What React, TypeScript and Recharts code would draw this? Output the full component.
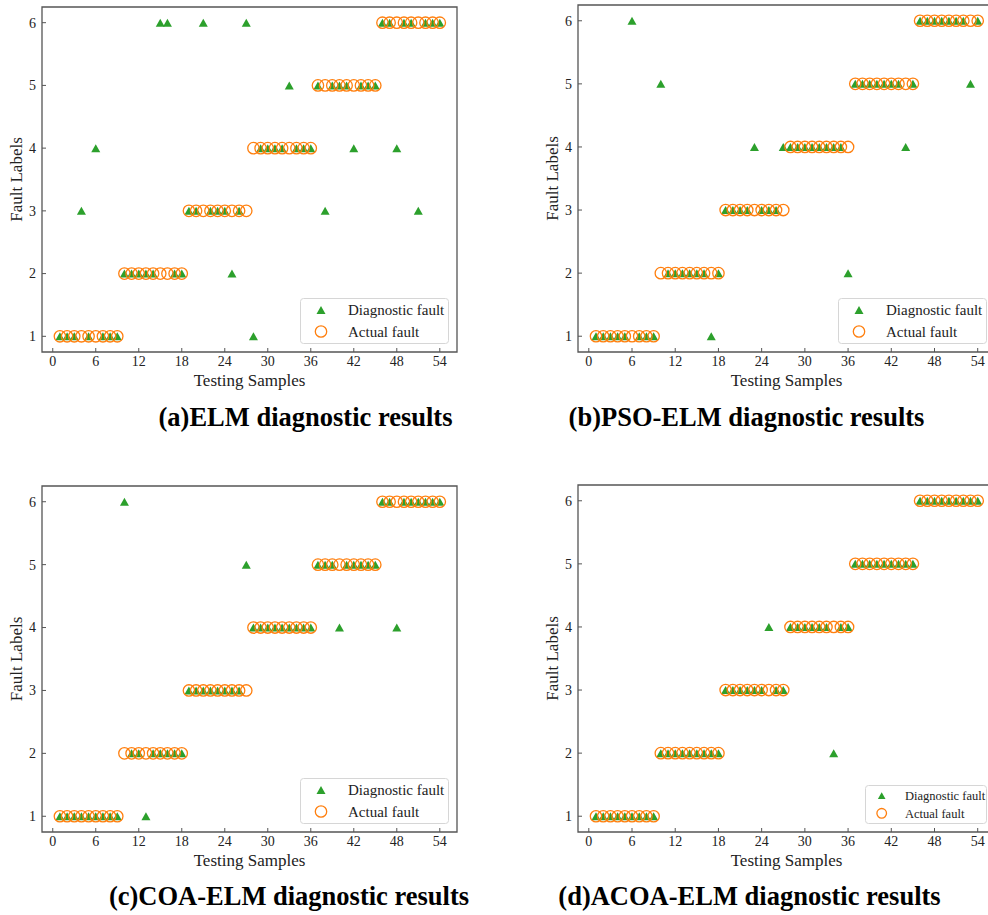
import React from 'react';
import { ScatterChart, Scatter, XAxis, YAxis, ReferenceArea, Legend } from 'recharts';

// Testing samples 1..54, fault labels 1..6
const xTicks = [0, 6, 12, 18, 24, 30, 36, 42, 48, 54];
const yTicks = [1, 2, 3, 4, 5, 6];

const actualFault = [
  1, 1, 1, 1, 1, 1, 1, 1, 1,
  2, 2, 2, 2, 2, 2, 2, 2, 2,
  3, 3, 3, 3, 3, 3, 3, 3, 3,
  4, 4, 4, 4, 4, 4, 4, 4, 4,
  5, 5, 5, 5, 5, 5, 5, 5, 5,
  6, 6, 6, 6, 6, 6, 6, 6, 6,
];

const elmDiag = [
  1, 1, 1, 3, 1, 4, 1, 1, 1,
  2, 2, 2, 2, 2, 6, 6, 2, 2,
  3, 3, 6, 3, 3, 3, 2, 3, 6,
  1, 4, 4, 4, 4, 5, 4, 4, 4,
  5, 3, 5, 5, 5, 4, 5, 5, 5,
  6, 6, 4, 6, 6, 3, 6, 6, 6,
];

const psoElmDiag = [
  1, 1, 1, 1, 1, 6, 1, 1, 1,
  5, 2, 2, 2, 2, 2, 2, 1, 2,
  3, 3, 3, 3, 4, 3, 3, 3, 4,
  4, 4, 4, 4, 4, 4, 4, 4, 2,
  5, 5, 5, 5, 5, 5, 5, 4, 5,
  6, 6, 6, 6, 6, 6, 6, 5, 6,
];

const coaElmDiag = [
  1, 1, 1, 1, 1, 1, 1, 1, 1,
  6, 2, 2, 1, 2, 2, 2, 2, 2,
  3, 3, 3, 3, 3, 3, 3, 3, 5,
  4, 4, 4, 4, 4, 4, 4, 4, 4,
  5, 5, 5, 4, 5, 5, 5, 5, 5,
  6, 6, 4, 6, 6, 6, 6, 6, 6,
];

const acoaElmDiag = [
  1, 1, 1, 1, 1, 1, 1, 1, 1,
  2, 2, 2, 2, 2, 2, 2, 2, 2,
  3, 3, 3, 3, 3, 3, 4, 3, 3,
  4, 4, 4, 4, 4, 4, 2, 4, 4,
  5, 5, 5, 5, 5, 5, 5, 5, 5,
  6, 6, 6, 6, 6, 6, 6, 6, 6,
];

const GREEN = '#2ca02c';
const ORANGE = '#ff7f0e';
const AXIS = '#555';
const SERIF = "'Liberation Serif', 'Times New Roman', serif";
const xDomain: [number, number] = [-1.5, 56.4];
const yDomain: [number, number] = [0.75, 6.25];

const CHART_W = 540;
const CHART_H = 470;
const Y_AXIS_W = 40;
const X_AXIS_H = 40;

const toPoints = (vals: number[]) => vals.map((v, i) => ({ x: i + 1, y: v }));

const Tri = ({ cx, cy, hw = 4.5, hh = 4 }: any) => (
  <polygon
    points={`${cx},${cy - hh} ${cx - hw},${cy + hh} ${cx + hw},${cy + hh}`}
    fill={GREEN}
  />
);

const Ring = ({ cx, cy, r = 5.7 }: any) => (
  <circle cx={cx} cy={cy} r={r} fill="none" stroke={ORANGE} strokeWidth={1.3} />
);

const XTick = ({ x, y, payload }: any) => (
  <g>
    <line x1={x} x2={x} y1={y} y2={y - 4} stroke={AXIS} strokeWidth={1} />
    <text x={x} y={y + 14} textAnchor="middle" fontFamily={SERIF} fontSize={14} fill="#222">
      {payload.value}
    </text>
  </g>
);

const YTick = ({ x, y, payload }: any) => (
  <g>
    <line x1={x} x2={x + 4} y1={y} y2={y} stroke={AXIS} strokeWidth={1} />
    <text x={x - 6} y={y} dy="0.35em" textAnchor="end" fontFamily={SERIF} fontSize={14} fill="#222">
      {payload.value}
    </text>
  </g>
);

type LegendSpec = { w: number; h: number; font: number; mx: number; tx: number; r1: number; r2: number; small?: boolean };

const bigLegend: LegendSpec = { w: 149, h: 46, font: 15, mx: 21, tx: 48, r1: 12, r2: 33.5 };
const smallLegend: LegendSpec = { w: 122, h: 39, font: 12.5, mx: 16.7, tx: 40, r1: 10.7, r2: 28.3, small: true };

const LegendSvg = ({ spec }: { spec: LegendSpec }) => (
  <svg width={spec.w} height={spec.h} style={{ display: 'block' }}>
    <rect x={0.5} y={0.5} width={spec.w - 1} height={spec.h - 1} rx={3} fill="#fff" fillOpacity={0.85} stroke="#d6d6d6" />
    <Tri cx={spec.mx} cy={spec.r1} hw={spec.small ? 3.8 : 4.5} hh={spec.small ? 3.4 : 4} />
    <Ring cx={spec.mx} cy={spec.r2} r={spec.small ? 4.8 : 5.7} />
    <text x={spec.tx} y={spec.r1} dy="0.35em" fontFamily={SERIF} fontSize={spec.font} fill="#222">
      Diagnostic fault
    </text>
    <text x={spec.tx} y={spec.r2} dy="0.35em" fontFamily={SERIF} fontSize={spec.font} fill="#222">
      Actual fault
    </text>
  </svg>
);

type PanelProps = {
  left: number;
  top: number;
  plotTop: number;
  plotRight: number;
  diag: number[];
  legend: LegendSpec;
};

const Panel = ({ left, top, plotTop, plotRight, diag, legend }: PanelProps) => {
  const margin = {
    top: plotTop,
    left: 42 - Y_AXIS_W,
    right: CHART_W - plotRight,
    bottom: CHART_H - 352 - X_AXIS_H,
  };
  return (
    <div style={{ position: 'absolute', left, top }}>
      <ScatterChart width={CHART_W} height={CHART_H} margin={margin}>
        <XAxis
          type="number"
          dataKey="x"
          domain={xDomain}
          ticks={xTicks}
          interval={0}
          allowDataOverflow
          height={X_AXIS_H}
          axisLine={false}
          tickLine={false}
          tickSize={0}
          tickMargin={0}
          tick={<XTick />}
          label={{ value: 'Testing Samples', position: 'insideTop', offset: 22, fontFamily: SERIF, fontSize: 17, fill: '#222' }}
        />
        <YAxis
          type="number"
          dataKey="y"
          domain={yDomain}
          ticks={yTicks}
          interval={0}
          allowDataOverflow
          width={Y_AXIS_W}
          axisLine={false}
          tickLine={false}
          tickSize={0}
          tickMargin={0}
          tick={<YTick />}
          label={{ value: 'Fault Labels', angle: -90, position: 'center', dx: -6, fontFamily: SERIF, fontSize: 17, fill: '#222' }}
        />
        <ReferenceArea
          x1={xDomain[0]}
          x2={xDomain[1]}
          y1={yDomain[0]}
          y2={yDomain[1]}
          fill="none"
          stroke={AXIS}
          strokeWidth={1.3}
          ifOverflow="visible"
        />
        <Legend
          layout="horizontal"
          align="center"
          verticalAlign="middle"
          wrapperStyle={{ left: plotRight - 8 - legend.w, top: 352 - 8 - legend.h, width: legend.w, height: legend.h }}
          content={() => <LegendSvg spec={legend} />}
        />
        <Scatter name="Diagnostic fault" data={toPoints(diag)} fill={GREEN} shape={(p: any) => <Tri cx={p.cx} cy={p.cy} />} isAnimationActive={false} />
        <Scatter name="Actual fault" data={toPoints(actualFault)} fill={ORANGE} shape={(p: any) => <Ring cx={p.cx} cy={p.cy} />} isAnimationActive={false} />
      </ScatterChart>
    </div>
  );
};

const titles = [
  { text: '(a)ELM diagnostic results', x: 305.5, y: 426 },
  { text: '(b)PSO-ELM diagnostic results', x: 746.5, y: 426 },
  { text: '(c)COA-ELM diagnostic results', x: 289, y: 905 },
  { text: '(d)ACOA-ELM diagnostic results', x: 749.5, y: 905 },
];

export default function App() {
  return (
    <div style={{ position: 'absolute', left: 0, top: 0, width: 988, height: 915, overflow: 'hidden', background: '#fff' }}>
      <Panel left={0} top={0} plotTop={7} plotRight={457} diag={elmDiag} legend={bigLegend} />
      <Panel left={536} top={0} plotTop={5} plotRight={459} diag={psoElmDiag} legend={bigLegend} />
      <Panel left={0} top={480} plotTop={6} plotRight={457} diag={coaElmDiag} legend={bigLegend} />
      <Panel left={536} top={480} plotTop={5} plotRight={459} diag={acoaElmDiag} legend={smallLegend} />
      <svg width={988} height={915} style={{ position: 'absolute', left: 0, top: 0, pointerEvents: 'none' }}>
        {titles.map((t) => (
          <text key={t.text} x={t.x} y={t.y} textAnchor="middle" fontFamily={SERIF} fontWeight="bold" fontSize={26.5} fill="#000">
            {t.text}
          </text>
        ))}
      </svg>
    </div>
  );
}
